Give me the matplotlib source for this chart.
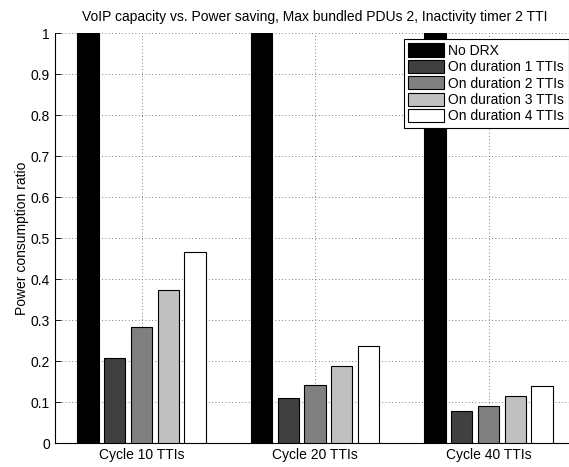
import numpy as np
import matplotlib.pyplot as plt

plt.rcParams['font.family'] = ['Liberation Sans', 'DejaVu Sans']

groups = ["Cycle 10 TTIs", "Cycle 20 TTIs", "Cycle 40 TTIs"]
series = ["No DRX", "On duration 1 TTIs", "On duration 2 TTIs",
          "On duration 3 TTIs", "On duration 4 TTIs"]
no_drx = [1.0, 1.0, 1.0]
on_1 = [0.207, 0.110, 0.079]
on_2 = [0.284, 0.142, 0.091]
on_3 = [0.374, 0.188, 0.115]
on_4 = [0.466, 0.236, 0.139]
colors = ["#000000", "#404040", "#808080", "#c0c0c0", "#ffffff"]

fig = plt.figure(figsize=(5.69, 4.67), dpi=100)
W, H = 569, 467
ax = fig.add_axes([54.75 / W, (H - 443.3) / H, 520.5 / W, 410.3 / H])

x = np.arange(1, 4)
slot = 0.769 / 5
for i, (vals, name, c) in enumerate(zip([no_drx, on_1, on_2, on_3, on_4], series, colors)):
    ax.bar(x + (i - 2) * slot, vals, width=slot * 0.8, color=c,
           edgecolor="black", linewidth=0.8, label=name, zorder=3)

ax.set_xlim(0.5, 3.5)
ax.set_ylim(0, 1)
ax.set_xticks(x)
ax.set_xticklabels(groups, fontsize=10)
ax.set_yticks(np.arange(0, 1.01, 0.1))
ax.set_yticklabels(["0", "0.1", "0.2", "0.3", "0.4", "0.5", "0.6", "0.7", "0.8", "0.9", "1"], fontsize=10)
ax.tick_params(direction="in", length=4, width=0.6)
ax.grid(True, linestyle=(0, (1, 3)), color="#555555", linewidth=0.6, zorder=0)
ax.spines["top"].set_visible(False)
ax.spines["right"].set_visible(False)
for s in ("left", "bottom"):
    ax.spines[s].set_linewidth(0.8)

ax.set_ylabel("Power consumption ratio", fontsize=10, labelpad=1)
ax.set_title("VoIP capacity vs. Power saving, Max bundled PDUs 2, Inactivity timer 2 TTI",
             fontsize=10, pad=9)

leg = ax.legend(loc="upper left", bbox_to_anchor=(404 / W, (H - 39) / H),
                bbox_transform=fig.transFigure, fontsize=10, fancybox=False,
                framealpha=1, edgecolor="black", borderpad=0.3, labelspacing=0.15,
                handlelength=2.6, handleheight=1.1, handletextpad=0.3, borderaxespad=0)
leg.get_frame().set_linewidth(0.8)

fig.savefig("out.png", dpi=100)
